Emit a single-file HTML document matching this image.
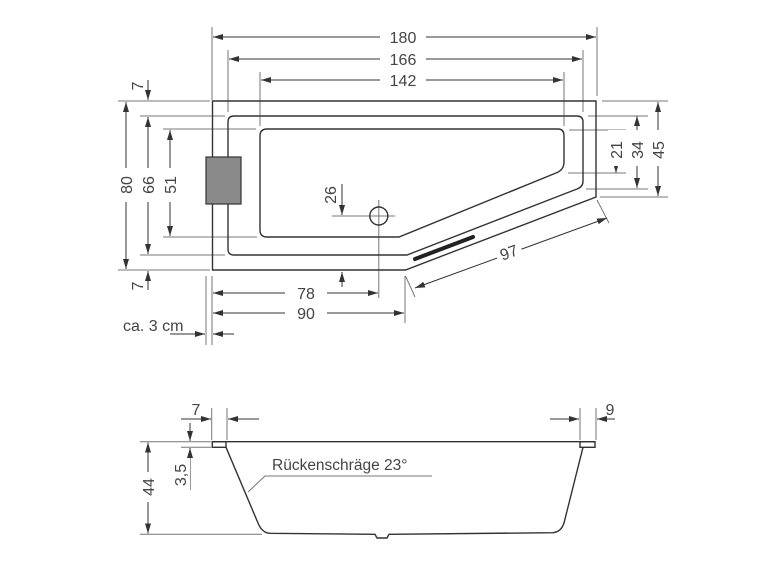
<!DOCTYPE html>
<html><head><style>
html,body{margin:0;padding:0;background:#fff;}
svg{display:block;}
text{font-family:"Liberation Sans",sans-serif;font-size:16px;fill:#444;}
</style></head><body>
<svg width="770" height="578" viewBox="0 0 770 578" xmlns="http://www.w3.org/2000/svg">
<defs>
<marker id="a" viewBox="0 0 10 6" refX="10" refY="3" markerWidth="10" markerHeight="6" orient="auto-start-reverse" markerUnits="userSpaceOnUse"><path d="M0,0 L10,3 L0,6 z" fill="#333"/></marker>
</defs>
<g stroke="#777" stroke-width="1" fill="none">
<!-- top extension lines -->
<line x1="212" y1="27" x2="212" y2="100"/><line x1="597" y1="27" x2="597" y2="96"/>
<line x1="228" y1="50" x2="228" y2="112"/><line x1="583" y1="50" x2="583" y2="112"/>
<line x1="260" y1="72" x2="260" y2="126"/><line x1="564" y1="72" x2="564" y2="126"/>
<!-- left extension lines -->
<line x1="118" y1="101" x2="210" y2="101"/><line x1="140" y1="116" x2="225" y2="116"/>
<line x1="163" y1="129" x2="256" y2="129"/><line x1="163" y1="237" x2="257" y2="237"/>
<line x1="140" y1="255" x2="225" y2="255"/><line x1="118" y1="270" x2="210" y2="270"/>
<!-- right extension lines -->
<line x1="602" y1="101" x2="668" y2="101"/><line x1="588" y1="116" x2="648" y2="116"/>
<line x1="569" y1="130" x2="626" y2="130"/><line x1="568" y1="173" x2="626" y2="173"/>
<line x1="586" y1="189" x2="648" y2="189"/><line x1="600" y1="197" x2="668" y2="197"/>
<!-- bottom -->
<line x1="206" y1="276" x2="206" y2="345"/><line x1="212" y1="276" x2="212" y2="345"/>
<line x1="405" y1="276" x2="405" y2="323"/>
<line x1="378.8" y1="200" x2="378.8" y2="298"/>
<line x1="332" y1="216" x2="395" y2="216"/>
<line x1="405.5" y1="276" x2="415" y2="297"/><line x1="597" y1="200" x2="609" y2="223"/>
</g>
<g stroke="#333" stroke-width="1" fill="none" marker-start="url(#a)" marker-end="url(#a)">
<line x1="213" y1="37" x2="596" y2="37"/>
<line x1="229" y1="59" x2="582" y2="59"/>
<line x1="261" y1="80" x2="563" y2="80"/>
<line x1="126" y1="102" x2="126" y2="269"/>
<line x1="148" y1="117" x2="148" y2="254"/>
<line x1="170" y1="130" x2="170" y2="236"/>
<line x1="658" y1="102" x2="658" y2="196"/>
<line x1="637" y1="116" x2="637" y2="188"/>
<line x1="213" y1="293" x2="378" y2="293"/>
<line x1="213" y1="313" x2="404" y2="313"/>
<line x1="415" y1="288" x2="607" y2="218"/>
</g>
<g stroke="#333" stroke-width="1" fill="none" marker-end="url(#a)">
<line x1="148" y1="80" x2="148" y2="100"/>
<line x1="148" y1="290" x2="148" y2="271"/>
<line x1="342" y1="184" x2="342" y2="215"/>
<line x1="342" y1="287" x2="342" y2="272"/>
<line x1="616" y1="140" x2="616" y2="130"/>
<line x1="616" y1="163" x2="616" y2="173"/>
<line x1="170" y1="334" x2="205" y2="334"/>
<line x1="234" y1="334" x2="213" y2="334"/>
</g>
<!-- tub top view -->
<g stroke="#333" stroke-width="1.4" fill="none">
<path d="M212.5,101 H596 V197 L405.5,270 H212.5 Z"/>
<path d="M234,116 H577 Q583,116 583,122 V181 Q583,187 577,189 L407,255 H234 Q228,255 228,249 V122 Q228,116 234,116 Z"/>
<path d="M267,129 H558 Q564,129 564,136 V162 Q564,170 556,173 L399,237 H267 Q260,237 260,230 V136 Q260,129 267,129 Z"/>
<circle cx="378.8" cy="216" r="9"/>
</g>
<rect x="206" y="157" width="35" height="47" fill="#8a8a8a" stroke="#333" stroke-width="1.2"/>
<line x1="415" y1="259" x2="473" y2="237" stroke="#222" stroke-width="4" stroke-linecap="round"/>
<!-- labels -->
<g>
<rect x="380" y="28" width="46" height="18" fill="#fff"/><text x="403" y="43" text-anchor="middle">180</text>
<rect x="380" y="50" width="46" height="18" fill="#fff"/><text x="403" y="65" text-anchor="middle">166</text>
<rect x="380" y="71" width="46" height="18" fill="#fff"/><text x="403" y="86" text-anchor="middle">142</text>
<rect x="285" y="284" width="42" height="18" fill="#fff"/><text x="306" y="299" text-anchor="middle">78</text>
<rect x="285" y="304" width="42" height="18" fill="#fff"/><text x="306" y="319" text-anchor="middle">90</text>
<text x="123" y="331">ca. 3 cm</text>
<text transform="translate(143,86) rotate(-90)" text-anchor="middle">7</text>
<text transform="translate(143,286) rotate(-90)" text-anchor="middle">7</text>
<rect x="117" y="168" width="60" height="34" fill="#fff"/>
<text transform="translate(132,185) rotate(-90)" text-anchor="middle">80</text>
<text transform="translate(154,185) rotate(-90)" text-anchor="middle">66</text>
<text transform="translate(176,185) rotate(-90)" text-anchor="middle">51</text>
<text transform="translate(336,195) rotate(-90)" text-anchor="middle">26</text>
<rect x="608" y="130" width="60" height="36" fill="#fff"/>
<text transform="translate(622,150) rotate(-90)" text-anchor="middle">21</text>
<text transform="translate(643,150) rotate(-90)" text-anchor="middle">34</text>
<text transform="translate(664,150) rotate(-90)" text-anchor="middle">45</text>
<g transform="translate(509,253) rotate(-20)"><rect x="-13" y="-11" width="26" height="20" fill="#fff"/><text x="0" y="5" text-anchor="middle">97</text></g>
</g>
<!-- side view -->
<g stroke="#777" stroke-width="1" fill="none">
<line x1="211.7" y1="408" x2="211.7" y2="440"/><line x1="227" y1="408" x2="227" y2="440"/>
<line x1="580" y1="408" x2="580" y2="440"/><line x1="596" y1="408" x2="596" y2="440"/>
<line x1="140" y1="441.7" x2="211" y2="441.7"/><line x1="181" y1="447.3" x2="211" y2="447.3"/>
<line x1="140" y1="534.3" x2="262" y2="534.3"/>
<polyline points="432,476 265,476 248,492"/>
</g>
<g stroke="#333" stroke-width="1" fill="none" marker-end="url(#a)">
<line x1="181" y1="419" x2="211" y2="419"/>
<line x1="259" y1="419" x2="228" y2="419"/>
<line x1="550" y1="419" x2="579" y2="419"/>
<line x1="615" y1="419" x2="597" y2="419"/>
<line x1="190" y1="423" x2="190" y2="441"/>
<line x1="190" y1="490" x2="190" y2="448"/>
</g>
<g stroke="#333" stroke-width="1" fill="none" marker-start="url(#a)" marker-end="url(#a)">
<line x1="148" y1="442.5" x2="148" y2="533.5"/>
</g>
<g stroke="#333" stroke-width="1.4" fill="none">
<line x1="212" y1="441.7" x2="595" y2="441.7"/>
<rect x="212.3" y="441.7" width="13.7" height="5.6"/>
<rect x="580" y="441.7" width="15" height="5.6"/>
<path d="M226,447.3 L258,523 Q262,533 270,533.3 L375,534.3 L377,538 L387,538 L389,534.3 L553,532.7 Q561,532 564,523 L583,447.3"/>
</g>
<text x="196" y="415" text-anchor="middle">7</text>
<text x="610" y="415" text-anchor="middle">9</text>
<rect x="172" y="458" width="18" height="34" fill="#fff"/>
<text transform="translate(186,475) rotate(-90)" text-anchor="middle">3,5</text>
<rect x="138" y="472" width="22" height="30" fill="#fff"/>
<text transform="translate(154,487) rotate(-90)" text-anchor="middle">44</text>
<text x="272" y="470" style="font-size:15.5px">Rückenschräge 23°</text>
</svg>
</body></html>
